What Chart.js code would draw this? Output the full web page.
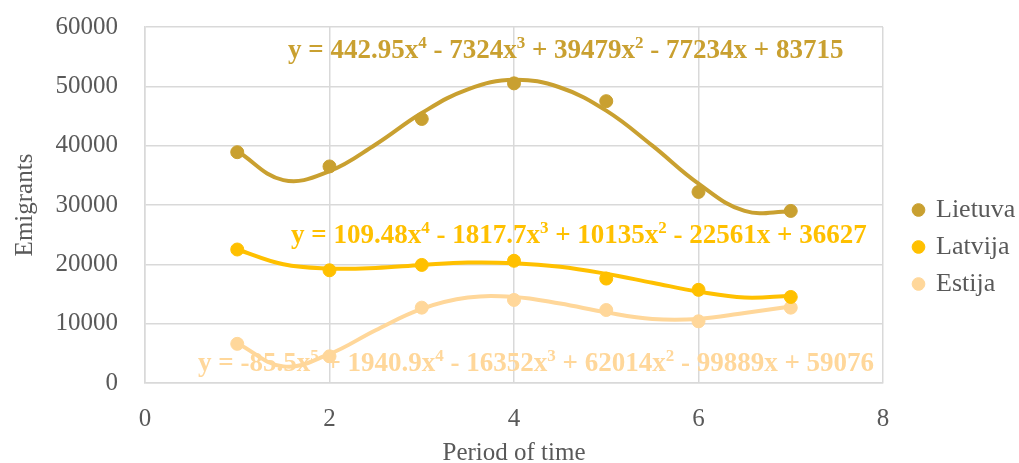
<!DOCTYPE html>
<html>
<head>
<meta charset="utf-8">
<script src="https://cdn.jsdelivr.net/npm/chart.js@4"></script>
<style>
  html, body { margin: 0; padding: 0; background: #fff; }
  #wrap { width: 1019px; height: 463px; }
</style>
</head>
<body>
<div id="wrap"><canvas id="myChart" width="1019" height="463"></canvas></div>
<script>
// measured points
const periods = [1, 2, 3, 4, 5, 6, 7];
const lietuva = [38900, 36500, 44500, 50500, 47500, 32200, 29000];
const latvija = [22500, 19000, 19900, 20600, 17600, 15700, 14500];
const estija = [6600, 4500, 12700, 14000, 12300, 10400, 12700];

// trendline heights
const trendX = [1, 1.5, 2, 2.5, 3, 3.5, 4, 4.5, 5, 5.5, 6, 6.5, 7];
const lietuvaTrend = [39100, 34200, 35700, 40200, 45500, 49500, 51100, 49800, 45900, 40000, 33600, 29000, 28900];
const latvijaTrend = [22500, 20000, 19300, 19400, 19900, 20300, 20200, 19600, 18400, 16900, 15400, 14400, 14700];
const estijaTrend = [6700, 2800, 4900, 8900, 12500, 14400, 14500, 13400, 11900, 10800, 10800, 11800, 12900];

const xTicks = [0, 2, 4, 6, 8];
const yTicks = [0, 10000, 20000, 30000, 40000, 50000, 60000];

const GOLD = "#C9A030";
const YELLOW = "#FFC000";
const PEACH = "#FFD79A";
const GREY = "#595959";
const SERIF = "'Liberation Serif', 'Times New Roman', serif";

const equations = [
	{ text: "y = 442.95x^4 - 7324x^3 + 39479x^2 - 77234x + 83715", color: GOLD, x: 288, y: 58 },
	{ text: "y = 109.48x^4 - 1817.7x^3 + 10135x^2 - 22561x + 36627", color: YELLOW, x: 291, y: 243 },
	{ text: "y = -85.5x^5 + 1940.9x^4 - 16352x^3 + 62014x^2 - 99889x + 59076", color: PEACH, x: 198, y: 371 },
];

const toXY = (xs, ys) => xs.map((x, i) => ({ x: x, y: ys[i] }));

const pointSet = (label, ys, color) => ({
	label: label,
	data: toXY(periods, ys),
	showLine: false,
	pointRadius: 6.5,
	pointHoverRadius: 6.5,
	pointBackgroundColor: color,
	pointBorderColor: color,
	backgroundColor: color,
	borderColor: color,
	order: 1,
});

const trendSet = (ys, color) => ({
	label: "trend",
	data: toXY(trendX, ys),
	showLine: true,
	tension: 0.4,
	borderWidth: 4,
	borderColor: color,
	pointRadius: 0,
	pointHoverRadius: 0,
	order: 2,
});

// trendline equations, with superscript powers
const equationPlugin = {
	id: "equations",
	afterDatasetsDraw(chart) {
		const ctx = chart.ctx;
		ctx.save();
		ctx.textBaseline = "alphabetic";
		equations.forEach((eq) => {
			let x = eq.x;
			ctx.fillStyle = eq.color;
			const parts = eq.text.split(/\^(\d)/);
			parts.forEach((p, i) => {
				if (i % 2 === 1) {
					ctx.font = "bold 17px " + SERIF;
					ctx.fillText(p, x, eq.y - 10);
				} else {
					ctx.font = "bold 27px " + SERIF;
					ctx.fillText(p, x, eq.y);
				}
				x += ctx.measureText(p).width;
			});
		});
		ctx.restore();
	},
};

// legend gets a fixed column on the right, nudged to sit like the original
const legendPlace = {
	id: "legendPlace",
	beforeLayout(chart) {
		const legend = chart.legend;
		if (legend && !legend._patched) {
			const fit = legend.fit;
			legend.fit = function () {
				fit.call(this);
				this.width = 136;
			};
			legend._patched = true;
		}
	},
	afterLayout(chart) {
		const legend = chart.legend;
		legend.left += 20;
		legend.right += 20;
		legend.top += 2;
		legend.bottom += 2;
	},
};

const initChart = () => {
	const myChartCanvas = document.getElementById("myChart");

	const chart = new Chart(myChartCanvas, {
		type: "scatter",
		data: {
			datasets: [
				pointSet("Lietuva", lietuva, GOLD),
				pointSet("Latvija", latvija, YELLOW),
				pointSet("Estija", estija, PEACH),
				trendSet(lietuvaTrend, GOLD),
				trendSet(latvijaTrend, YELLOW),
				trendSet(estijaTrend, PEACH),
			],
		},
		options: {
			responsive: false,
			animation: false,
			layout: {
				padding: { top: 27, right: 0, bottom: 0, left: 10 },
			},
			scales: {
				x: {
					type: "linear",
					min: 0,
					max: 8,
					afterBuildTicks: (axis) => {
						axis.ticks = xTicks.map((v) => ({ value: v }));
					},
					afterFit: (axis) => {
						axis.height = 80;
						axis.paddingLeft = 0;
						axis.paddingRight = 0;
					},
					grid: { color: "#D9D9D9", lineWidth: 1.5, drawTicks: false },
					border: { color: "#D9D9D9", width: 1.5 },
					ticks: {
						color: GREY,
						font: { family: SERIF, size: 25 },
						padding: 21,
					},
					title: {
						display: true,
						text: "Period of time",
						color: GREY,
						font: { family: SERIF, size: 25, lineHeight: 1 },
						padding: { top: 0, bottom: -3 },
					},
				},
				y: {
					type: "linear",
					min: 0,
					max: 60000,
					afterBuildTicks: (axis) => {
						axis.ticks = yTicks.map((v) => ({ value: v }));
					},
					afterFit: (axis) => {
						axis.width = 135;
						axis.paddingTop = 0;
						axis.paddingBottom = 0;
					},
					grid: { color: "#D9D9D9", lineWidth: 1.5, drawTicks: false },
					border: { color: "#D9D9D9", width: 1.5 },
					ticks: {
						color: GREY,
						font: { family: SERIF, size: 25 },
						padding: 27,
						callback: (v) => String(v),
					},
					title: {
						display: true,
						text: "Emigrants",
						color: GREY,
						font: { family: SERIF, size: 25 },
						padding: { top: 0, bottom: 0 },
					},
				},
			},
			plugins: {
				legend: {
					position: "right",
					labels: {
						filter: (item) => item.text !== "trend",
						usePointStyle: true,
						pointStyle: "circle",
						boxWidth: 9,
						boxHeight: 9,
						padding: 11,
						color: GREY,
						font: { family: SERIF, size: 26 },
					},
				},
				tooltip: { enabled: false },
			},
		},
		plugins: [equationPlugin, legendPlace],
	});

	return chart;
};

window.onload = (event) => {
	var chart = initChart();
};
</script>
</body>
</html>
